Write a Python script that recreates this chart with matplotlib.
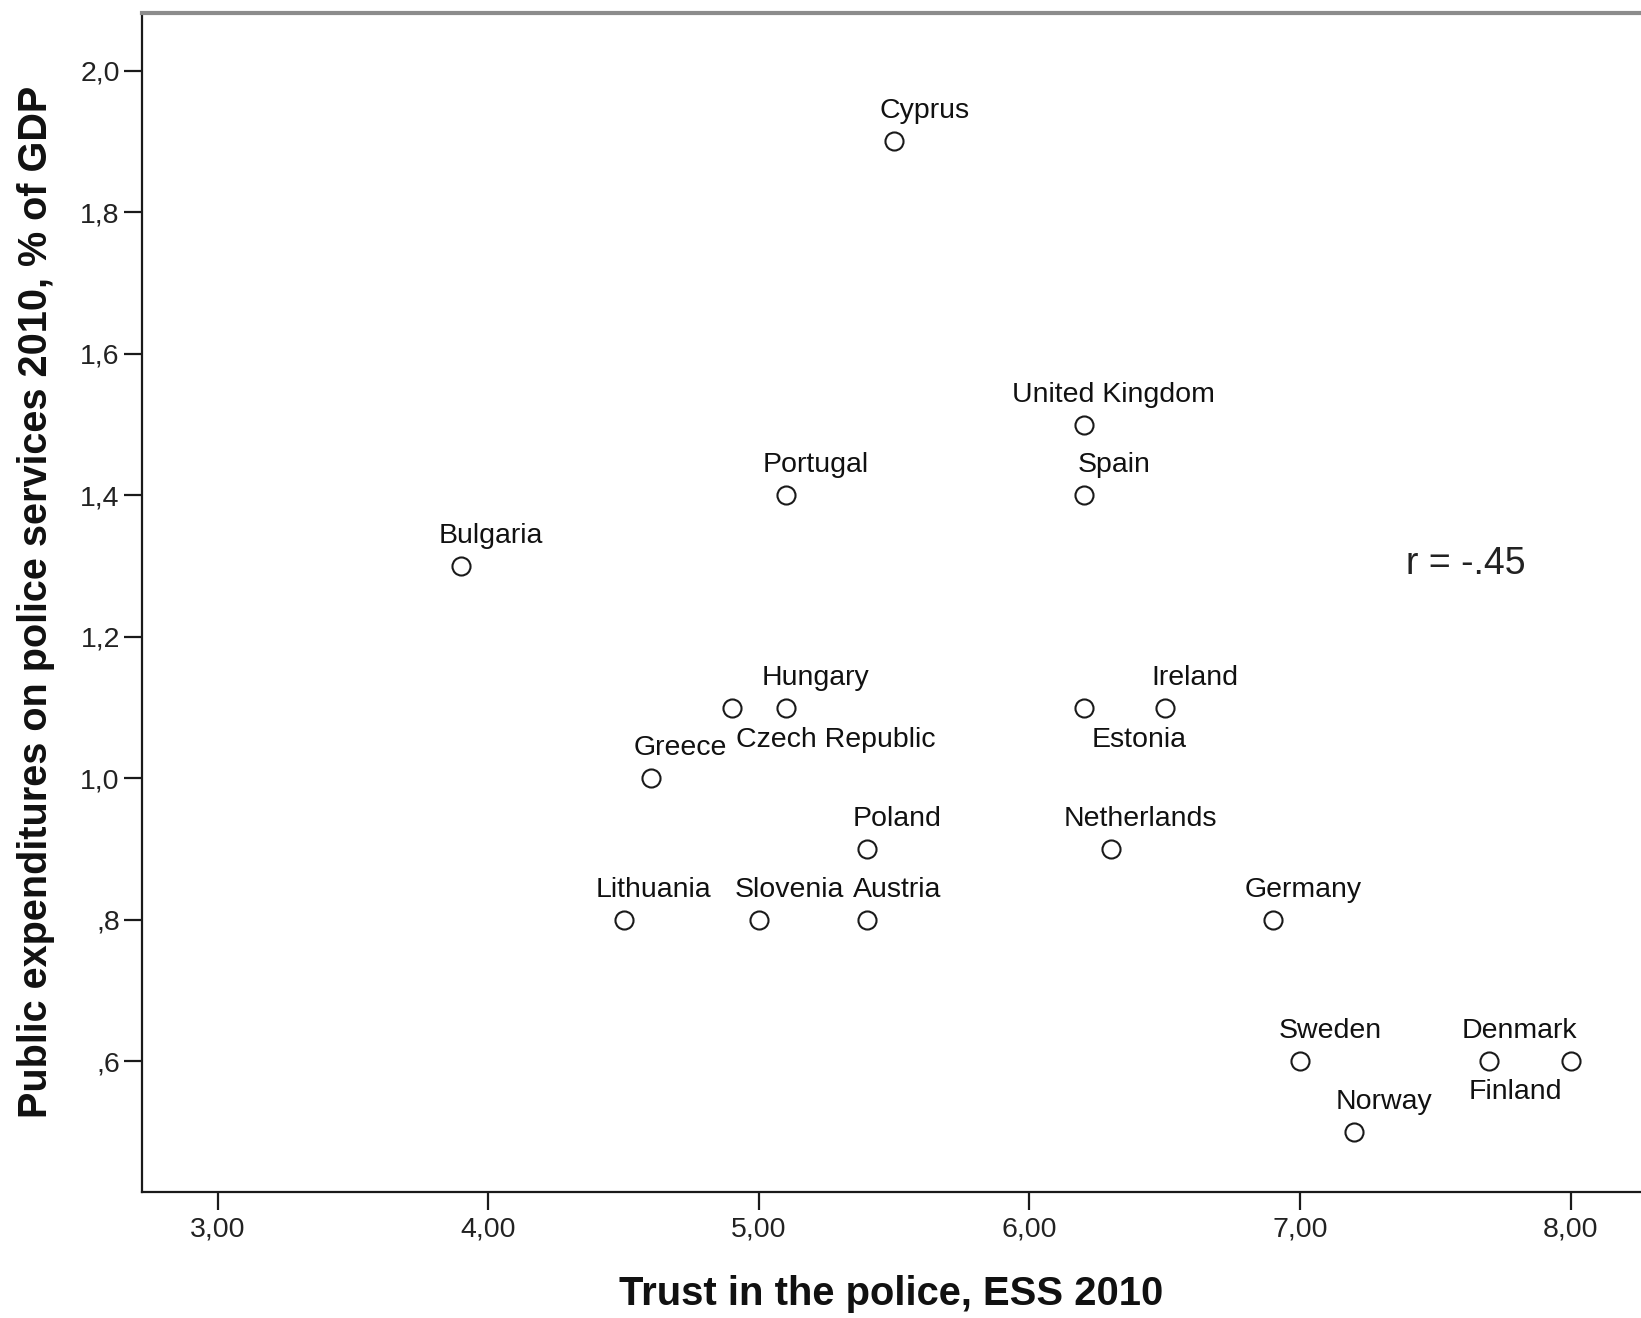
import matplotlib
matplotlib.use("Agg")
import matplotlib.pyplot as plt
from matplotlib.ticker import FixedLocator, FuncFormatter

# Country-level data: trust in police (ESS 2010) vs police spending (% of GDP)
countries = ["Cyprus", "United Kingdom", "Spain", "Portugal", "Bulgaria",
             "Hungary", "Czech Republic", "Greece", "Estonia", "Ireland",
             "Poland", "Netherlands", "Lithuania", "Slovenia", "Austria",
             "Germany", "Sweden", "Denmark", "Finland", "Norway"]
trust = [5.5, 6.2, 6.2, 5.1, 3.9,
         5.1, 4.9, 4.6, 6.2, 6.5,
         5.4, 6.3, 4.5, 5.0, 5.4,
         6.9, 7.0, 7.7, 8.0, 7.2]
spending = [1.9, 1.5, 1.4, 1.4, 1.3,
            1.1, 1.1, 1.0, 1.1, 1.1,
            0.9, 0.9, 0.8, 0.8, 0.8,
            0.8, 0.6, 0.6, 0.6, 0.5]

x_ticks = [3.0, 4.0, 5.0, 6.0, 7.0, 8.0]
y_ticks = [0.6, 0.8, 1.0, 1.2, 1.4, 1.6, 1.8, 2.0]
correlation_text = "r = -.45"

plt.rcParams["font.family"] = ["Liberation Sans", "DejaVu Sans"]

fig = plt.figure(figsize=(16.41, 13.18), dpi=100)
ax = fig.add_axes([142 / 1641, 126.3 / 1318, 1499 / 1641, 1178.7 / 1318])

ax.plot(trust, spending, linestyle="none", marker="o", markersize=13,
        markerfacecolor="white", markeredgecolor="#1a1a1a", markeredgewidth=1.5)

# Label placement (pixel offsets from each point); most sit above-right
default_offset = (30, 23, "center")
special_offsets = {
    "Czech Republic": (4, -39, "left"),
    "Estonia": (56, -39, "center"),
    "Finland": (-55, -38, "center"),
}
for name, xv, yv in zip(countries, trust, spending):
    dx, dy, ha = special_offsets.get(name, default_offset)
    ax.annotate(name, (xv, yv), xytext=(dx, dy), textcoords="offset pixels",
                ha=ha, va="baseline", fontsize=20.5, color="#111111")

ax.text(7.39, 1.303, correlation_text, ha="left", va="center",
        fontsize=27, color="#222222")

ax.set_xlim(2.72, 8.26)
ax.set_ylim(0.416, 2.0815)


def fmt_x(v, pos):
    return f"{v:.2f}".replace(".", ",")


def fmt_y(v, pos):
    s = f"{v:.1f}".replace(".", ",")
    return s[1:] if s.startswith("0") else s


ax.xaxis.set_major_locator(FixedLocator(x_ticks))
ax.yaxis.set_major_locator(FixedLocator(y_ticks))
ax.xaxis.set_major_formatter(FuncFormatter(fmt_x))
ax.yaxis.set_major_formatter(FuncFormatter(fmt_y))

ax.tick_params(axis="both", direction="out", length=13, width=1.6,
               color="#1a1a1a", labelsize=20.5, labelcolor="#222222")
ax.tick_params(axis="x", pad=5)
ax.tick_params(axis="y", pad=3)

for side in ("left", "bottom"):
    ax.spines[side].set_color("#1a1a1a")
    ax.spines[side].set_linewidth(1.6)
ax.spines["top"].set_color("#8c8c8c")
ax.spines["top"].set_linewidth(3)
ax.spines["right"].set_visible(False)

ax.set_xlabel("Trust in the police, ESS 2010", fontsize=28.8,
              fontweight="bold", color="#111111")
ax.xaxis.label.set_va("baseline")
ax.xaxis.set_label_coords(0.5, -0.0961)

ax.set_ylabel("Public expenditures on police services 2010, % of GDP",
              fontsize=28.5, fontweight="bold", color="#111111")
ax.yaxis.label.set_va("center")
ax.yaxis.set_label_coords(-0.0705, 0.5)

fig.savefig("out.png", dpi=100, facecolor="white")
